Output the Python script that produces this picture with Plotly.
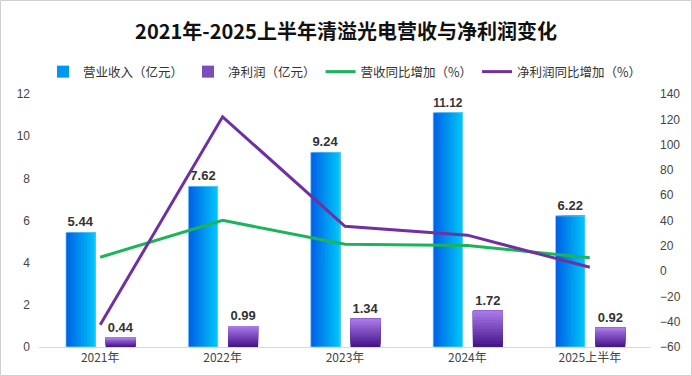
import plotly.graph_objects as go

categories = ["2021年", "2022年", "2023年", "2024年", "2025上半年"]
revenue = [5.44, 7.62, 9.24, 11.12, 6.22]
net_profit = [0.44, 0.99, 1.34, 1.72, 0.92]
revenue_growth = [11.0, 40.1, 21.3, 20.3, 10.5]
profit_growth = [-42.5, 122.0, 35.4, 28.4, 3.0]

left_ticks = [0, 2, 4, 6, 8, 10, 12]
right_ticks = [-60, -40, -20, 0, 20, 40, 60, 80, 100, 120, 140]

W, H = 692, 376
ML, MR, MT, MB = 39, 41, 94, 29
PW, PH = W - ML - MR, H - MT - MB

cjk = "Noto Sans CJK SC, sans-serif"
num = "Liberation Sans, Arial, Noto Sans CJK SC, sans-serif"


def lerp(c1, c2, t):
    a = [int(c1[i:i + 2], 16) for i in (1, 3, 5)]
    b = [int(c2[i:i + 2], 16) for i in (1, 3, 5)]
    return "#" + "".join(f"{round(x + (y - x) * t):02x}" for x, y in zip(a, b))


fig = go.Figure()

# revenue bars: horizontal gradient built from layered strips (each runs to the bar's right edge)
BW, BOFF, NS = 0.24, -0.28, 14
for i in range(NS):
    t = i / (NS - 1)
    fig.add_trace(go.Bar(
        x=categories, y=revenue, name="营业收入（亿元）",
        legendgroup="rev", showlegend=(i == NS // 2), legendrank=1,
        width=BW * (NS - i) / NS, offset=BOFF + i * BW / NS,
        marker=dict(color=lerp("#0062e6", "#00c4f8", t), line=dict(width=0)),
        hoverinfo="skip",
    ))
fig.add_trace(go.Bar(
    x=categories, y=revenue, showlegend=False,
    width=BW, offset=BOFF,
    marker=dict(color="rgba(0,0,0,0)", line=dict(color="rgba(130,215,255,0.7)", width=1)),
    text=[f"{v:.2f}" for v in revenue], textposition="outside",
    textfont=dict(size=13, color="#333333", family=num, weight="bold"),
    cliponaxis=False, hoverinfo="skip",
))

# net profit bars: vertical gradient built from layered segments (each runs to the bar's top)
PWID, POFF, NP = 0.245, 0.045, 12
for i in range(NP):
    t = i / (NP - 1)
    fig.add_trace(go.Bar(
        x=categories, y=[v * (NP - i) / NP for v in net_profit],
        base=[v * i / NP for v in net_profit],
        name="净利润（亿元）", legendgroup="np", showlegend=(i == NP // 2), legendrank=2,
        width=PWID, offset=POFF,
        marker=dict(color=lerp("#48168c", "#a878e6", t), line=dict(width=0)),
        hoverinfo="skip",
    ))
fig.add_trace(go.Bar(
    x=categories, y=net_profit, showlegend=False,
    width=PWID, offset=POFF, marker=dict(color="rgba(0,0,0,0)", line=dict(width=0)),
    text=[f"{v:.2f}" for v in net_profit], textposition="outside",
    textfont=dict(size=13, color="#333333", family=num, weight="bold"),
    cliponaxis=False, hoverinfo="skip",
))

fig.add_trace(go.Scatter(
    x=categories, y=revenue_growth, name="营收同比增加（%）", yaxis="y2",
    mode="lines", line=dict(color="#1cb45a", width=3), legendrank=3,
))
fig.add_trace(go.Scatter(
    x=categories, y=profit_growth, name="净利润同比增加（%）", yaxis="y2",
    mode="lines", line=dict(color="#7030a0", width=3), legendrank=4,
))

fig.update_layout(
    width=W, height=H,
    margin=dict(l=ML, r=MR, t=MT, b=MB),
    paper_bgcolor="white", plot_bgcolor="white",
    font=dict(family=cjk, color="#444444", size=12),
    title=dict(text="<b>2021年-2025上半年清溢光电营收与净利润变化</b>",
               x=0.5, xanchor="center", y=1 - 32 / H, yanchor="middle",
               font=dict(size=20, color="#111111", family=cjk)),
    legend=dict(orientation="h", x=0.5, xanchor="center", y=1 + 22 / PH, yanchor="middle",
                font=dict(size=12.5, color="#333333", family=cjk), itemwidth=30,
                traceorder="normal", bgcolor="rgba(0,0,0,0)"),
    barmode="overlay",
    xaxis=dict(type="category", range=[-0.5, 4.5], showgrid=False,
               showline=True, linecolor="#d9d9d9", linewidth=1,
               ticks="", tickfont=dict(size=12, color="#444444", family=cjk)),
    yaxis=dict(range=[0, 12], tickvals=left_ticks, showgrid=False, zeroline=False,
               showline=False, ticks="", tickfont=dict(size=12, color="#444444", family=num),
               ticklabelstandoff=8),
    yaxis2=dict(range=[-60, 140], tickvals=right_ticks, overlaying="y", side="right",
                showgrid=False, zeroline=False, showline=False, ticks="",
                tickfont=dict(size=12, color="#444444", family=num), ticklabelstandoff=8),
    shapes=[dict(type="rect", xref="paper", yref="paper",
                 x0=-(ML - 0.5) / PW, x1=1 + (MR - 0.5) / PW,
                 y0=-(MB - 0.5) / PH, y1=1 + (MT - 0.5) / PH,
                 line=dict(color="#d0d0d0", width=1), layer="below")],
)

fig.write_html("out.html", config={"displayModeBar": False},
               post_script="document.body.style.margin='0';document.body.style.overflow='hidden';")
